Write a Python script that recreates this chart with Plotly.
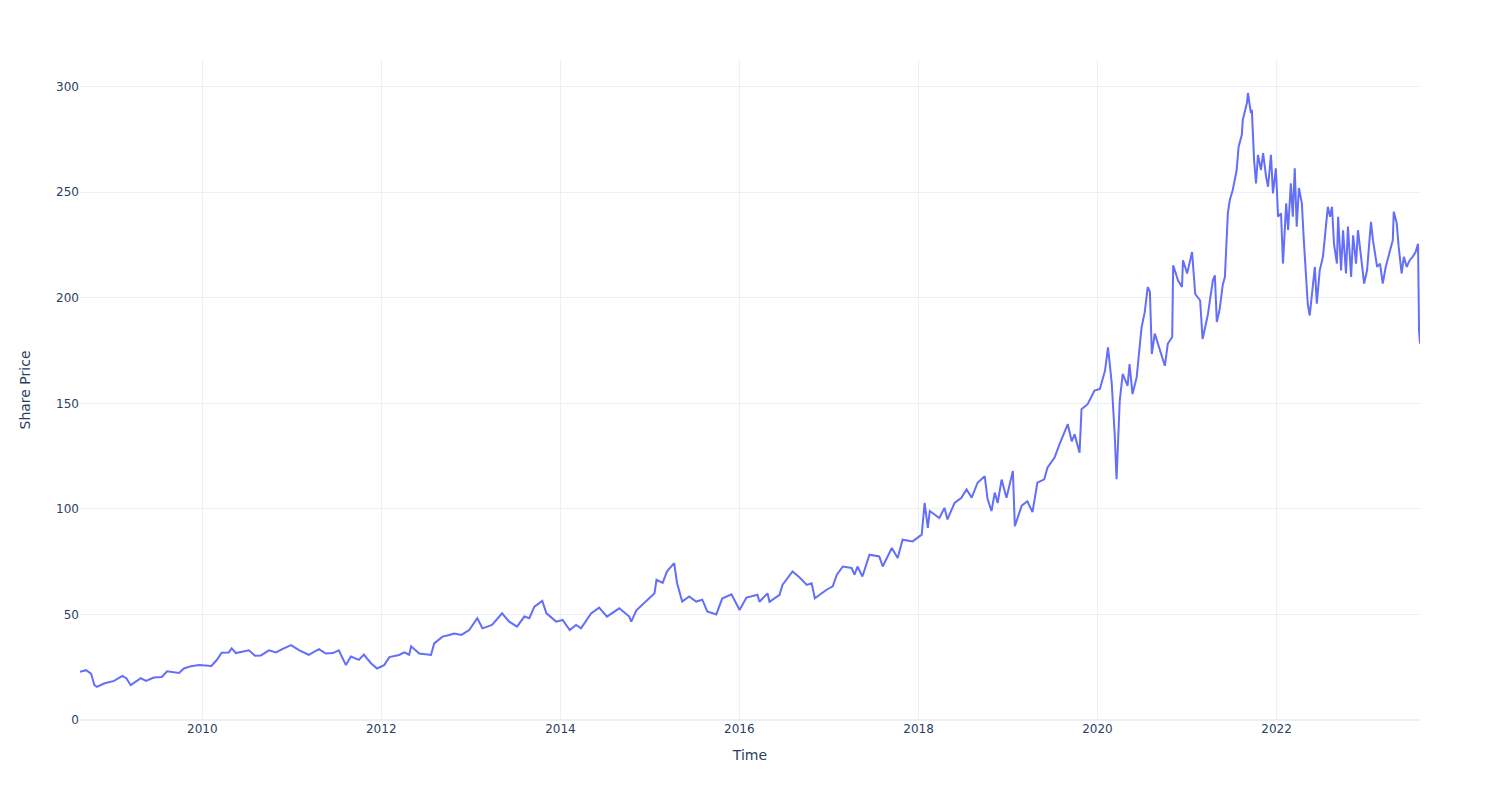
import plotly.graph_objects as go

dates = [
    "2008-08-20", "2008-09-14", "2008-10-04", "2008-10-18", "2008-10-28", "2008-11-26", "2009-01-06", "2009-02-09",
    "2009-02-25", "2009-03-15", "2009-04-25", "2009-05-16", "2009-06-17", "2009-07-20", "2009-08-10",
    "2009-09-08", "2009-09-28", "2009-10-18", "2009-11-16", "2009-12-19", "2010-02-07", "2010-03-01",
    "2010-03-21", "2010-04-19", "2010-05-01", "2010-05-18", "2010-06-20", "2010-07-10", "2010-08-04",
    "2010-08-28", "2010-09-30", "2010-10-29", "2010-11-23", "2010-12-29", "2011-02-01", "2011-03-11",
    "2011-04-22", "2011-05-20", "2011-06-18", "2011-07-12", "2011-08-10", "2011-08-30", "2011-10-02",
    "2011-10-22", "2011-11-20", "2011-12-15", "2012-01-13", "2012-02-03", "2012-03-14", "2012-04-04",
    "2012-04-24", "2012-05-02", "2012-06-04", "2012-07-02", "2012-07-22", "2012-08-04", "2012-09-07",
    "2012-10-05", "2012-10-25", "2012-11-23", "2012-12-25", "2013-01-27", "2013-02-17", "2013-03-28",
    "2013-05-08", "2013-06-06", "2013-07-08", "2013-08-07", "2013-08-27", "2013-09-17", "2013-10-19",
    "2013-11-05", "2013-12-15", "2014-01-10", "2014-02-08", "2014-03-06", "2014-03-26", "2014-05-06",
    "2014-06-08", "2014-07-10", "2014-08-29", "2014-10-09", "2014-10-17", "2014-11-07", "2014-12-17",
    "2015-01-20", "2015-01-28", "2015-02-22", "2015-03-12", "2015-04-10", "2015-04-22", "2015-05-13",
    "2015-06-10", "2015-07-09", "2015-08-03", "2015-08-23", "2015-09-29", "2015-10-23", "2015-11-30",
    "2016-01-02", "2016-01-30", "2016-03-15", "2016-03-23", "2016-04-25", "2016-05-03", "2016-06-13",
    "2016-06-25", "2016-08-05", "2016-09-03", "2016-10-02", "2016-10-22", "2016-11-04", "2016-12-22",
    "2017-01-16", "2017-02-02", "2017-02-26", "2017-04-03", "2017-04-15", "2017-04-27", "2017-05-17",
    "2017-06-15", "2017-07-25", "2017-08-08", "2017-09-14", "2017-10-08", "2017-10-28", "2017-12-08",
    "2018-01-14", "2018-01-26", "2018-02-08", "2018-02-16", "2018-03-27", "2018-04-17", "2018-04-29",
    "2018-05-28", "2018-06-25", "2018-07-16", "2018-08-06", "2018-08-30", "2018-09-28", "2018-10-10",
    "2018-10-26", "2018-11-08", "2018-11-20", "2018-12-06", "2018-12-26", "2019-01-21", "2019-01-29",
    "2019-02-26", "2019-03-21", "2019-04-11", "2019-05-01", "2019-05-29", "2019-06-11", "2019-07-10",
    "2019-07-30", "2019-09-02", "2019-09-18", "2019-09-30", "2019-10-20", "2019-10-28", "2019-11-22",
    "2019-12-20", "2020-01-11", "2020-02-01", "2020-02-13", "2020-02-28", "2020-03-11", "2020-03-19",
    "2020-04-01", "2020-04-13", "2020-05-03", "2020-05-11", "2020-05-23", "2020-06-09", "2020-06-29",
    "2020-07-12", "2020-07-24", "2020-08-02", "2020-08-10", "2020-08-22", "2020-09-12", "2020-10-02",
    "2020-10-14", "2020-11-01", "2020-11-05", "2020-11-25", "2020-12-11", "2020-12-15", "2021-01-01",
    "2021-01-21", "2021-02-03", "2021-02-23", "2021-03-05", "2021-03-26", "2021-04-16", "2021-04-24",
    "2021-05-02", "2021-05-14", "2021-05-26", "2021-06-04", "2021-06-16", "2021-06-24", "2021-07-06",
    "2021-07-22", "2021-07-30", "2021-08-12", "2021-08-16", "2021-09-02", "2021-09-06", "2021-09-18",
    "2021-09-22", "2021-10-01", "2021-10-09", "2021-10-17", "2021-10-29", "2021-11-07", "2021-11-19",
    "2021-11-27", "2021-12-09", "2021-12-17", "2021-12-29", "2022-01-07", "2022-01-19", "2022-01-27",
    "2022-02-09", "2022-02-17", "2022-02-28", "2022-03-08", "2022-03-16", "2022-03-24", "2022-04-02",
    "2022-04-14", "2022-04-22", "2022-05-04", "2022-05-08", "2022-05-16", "2022-05-28", "2022-06-06",
    "2022-06-14", "2022-06-26", "2022-07-09", "2022-07-21", "2022-07-29", "2022-08-07", "2022-08-15",
    "2022-08-23", "2022-09-04", "2022-09-09", "2022-09-21", "2022-09-29", "2022-10-11", "2022-10-19",
    "2022-11-01", "2022-11-09", "2022-11-21", "2022-11-29", "2022-12-16", "2022-12-24", "2023-01-05",
    "2023-01-21", "2023-01-29", "2023-02-15", "2023-02-27", "2023-03-10", "2023-03-22", "2023-04-08",
    "2023-04-20", "2023-04-24", "2023-05-06", "2023-05-14", "2023-05-26", "2023-06-04", "2023-06-16",
    "2023-06-28", "2023-07-10", "2023-07-22", "2023-08-01", "2023-08-05", "2023-08-09",
]

share_price = [
    22.8, 23.6, 22.0, 16.5, 15.7, 17.3, 18.5, 20.9,
    19.8, 16.5, 19.8, 18.5, 20.1, 20.4, 23.1,
    22.5, 22.3, 24.4, 25.5, 26.0, 25.6, 28.4,
    31.9, 32.0, 33.9, 31.7, 32.5, 33.0, 30.4,
    30.6, 33.0, 32.0, 33.6, 35.5, 33.0, 30.9,
    33.6, 31.5, 31.7, 33.0, 26.0, 30.1, 28.5,
    31.0, 26.9, 24.4, 26.0, 29.8, 30.8, 32.0,
    30.9, 34.9, 31.5, 31.0, 30.8, 36.3, 39.5,
    40.3, 41.0, 40.3, 42.6, 48.2, 43.4, 45.0,
    50.5, 46.6, 44.2, 49.0, 48.2, 53.7, 56.4,
    50.5, 46.6, 47.4, 42.6, 45.0, 43.4, 50.5,
    53.2, 49.0, 52.9, 49.0, 46.6, 52.0, 56.1,
    60.0, 66.4, 65.0, 70.4, 74.3, 64.8, 56.1,
    58.5, 56.1, 57.0, 51.4, 50.0, 57.5, 59.5,
    52.1, 58.0, 59.3, 56.0, 60.0, 56.0, 59.3,
    64.0, 70.4, 67.5, 64.0, 64.8, 57.7, 61.7,
    63.3, 68.8, 72.7, 72.0, 68.8, 72.7, 68.0,
    78.3, 77.5, 72.7, 81.5, 76.7, 85.4, 84.6,
    87.8, 102.8, 91.0, 99.0, 95.7, 100.5, 95.0,
    102.8, 105.3, 109.2, 105.3, 112.4, 115.5, 104.5,
    99.0, 107.7, 102.8, 113.9, 105.3, 117.9, 91.8,
    101.5, 103.6, 98.5, 112.4, 114.0, 119.5, 124.3,
    130.6, 140.1, 132.0, 135.3, 126.6, 147.2, 149.6,
    156.0, 156.8, 165.5, 176.5, 160.0, 136.1, 114.0,
    151.2, 163.9, 158.3, 168.6, 154.4, 162.3, 186.0,
    193.2, 205.1, 202.8, 173.4, 183.0, 175.0, 167.8,
    178.2, 181.4, 215.4, 208.2, 205.1, 217.8, 211.5,
    221.7, 201.8, 198.7, 180.5, 191.7, 208.3, 210.6,
    188.5, 194.8, 206.0, 209.8, 240.0, 246.3, 251.0,
    260.5, 271.6, 277.2, 284.3, 292.3, 297.0, 287.5,
    289.0, 265.3, 254.2, 267.7, 260.5, 268.5, 257.4,
    252.6, 267.7, 249.4, 261.3, 238.4, 240.0, 216.2,
    244.7, 232.1, 254.2, 238.4, 261.3, 233.7, 252.0,
    244.7, 227.3, 205.1, 197.2, 191.6, 206.7, 214.6,
    197.2, 213.0, 219.4, 232.0, 243.1, 238.4, 243.1,
    225.6, 216.2, 238.4, 213.0, 232.0, 211.5, 233.7,
    209.9, 229.6, 216.2, 232.0, 216.2, 206.7, 213.0,
    236.0, 227.3, 214.6, 216.2, 206.7, 214.6, 222.5,
    227.3, 240.8, 235.3, 224.1, 211.5, 219.4, 214.6,
    217.8, 219.4, 221.7, 225.6, 184.5, 178.2,
]

fig = go.Figure(
    go.Scatter(x=dates, y=share_price, mode="lines",
               line=dict(color="#636efa", width=2), name="Share Price")
)

fig.update_layout(
    template="plotly_white",
    width=1500,
    height=800,
    margin=dict(l=72, r=88, t=52, b=88),
    font=dict(family="DejaVu Sans", size=12, color="#2a3f5f"),
    showlegend=False,
    xaxis=dict(title=dict(text="Time")),
    yaxis=dict(title=dict(text="Share Price", standoff=22), rangemode="tozero"),
)

fig.write_html("out.html")
